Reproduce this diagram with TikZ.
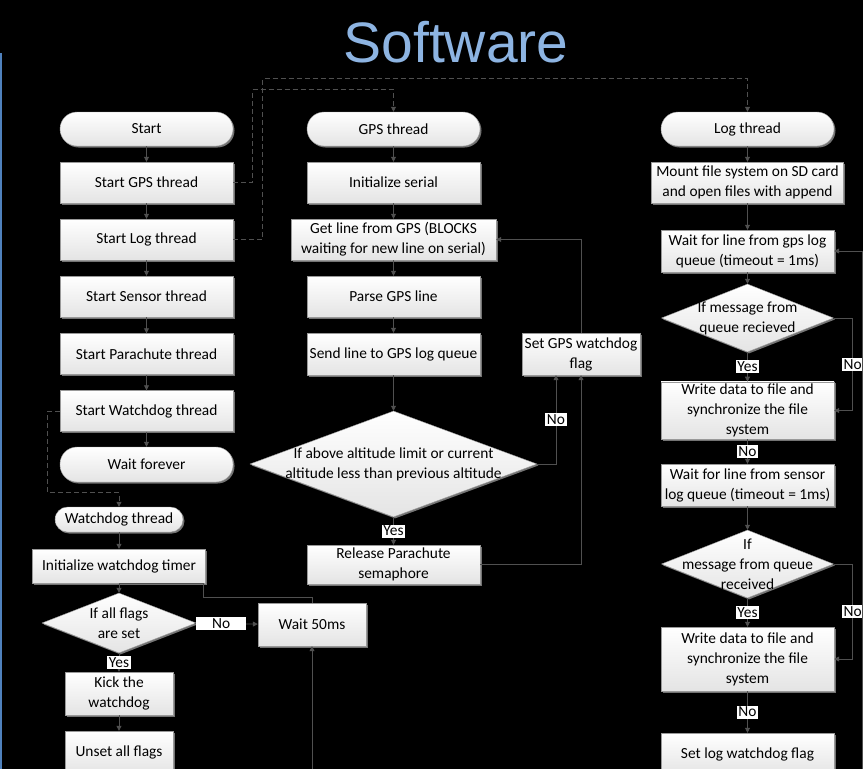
\documentclass[tikz,border=0pt]{standalone}
\usepackage{fontspec}
\setmainfont{Carlito}
\newfontfamily\titlefont{Liberation Sans}
\usetikzlibrary{arrows.meta, shapes.geometric, shadows, calc}
\usepackage{xcolor}
\definecolor{titleblue}{HTML}{8DB4E2}
\definecolor{edgeblue}{HTML}{4F81BD}
\definecolor{linegray}{HTML}{505050}
\definecolor{boxgray}{HTML}{E4E4E4}

\begin{document}
\begin{tikzpicture}[x=1pt, y=-1pt,
  font=\fontsize{15.4}{20}\selectfont,
  >={Triangle[length=5pt,width=5pt]},
  procbox/.style={rectangle, draw=black!40, top color=white, bottom color=boxgray,
    drop shadow={shadow xshift=1.5pt, shadow yshift=-1.5pt, fill=black!55, opacity=1},
    align=center, inner sep=2pt, minimum width=173pt, minimum height=41pt},
  term/.style={procbox, rounded corners=17pt, minimum height=34pt},
  decision/.style={diamond, draw=black!40, top color=white, bottom color=boxgray,
    drop shadow={shadow xshift=1.5pt, shadow yshift=-1.5pt, fill=black!55, opacity=1},
    inner sep=0pt},
  conn/.style={draw=linegray, line width=0.8pt},
  arr/.style={conn, ->},
  dasharr/.style={conn, dash pattern=on 5pt off 3pt, ->},
  yn/.style={fill=white, text=black, inner sep=1.5pt}
]
  \useasboundingbox (0,0) rectangle (863,769);
  \fill[black] (0,0) rectangle (863,769);
  \draw[edgeblue, line width=2pt] (1,53) -- (1,769);

  \node[font=\titlefont\fontsize{57}{64}\selectfont, text=titleblue] (title) at (456,42) {Software};

  % main thread
  \node[term] (start) at (146.5,129) {Start};
  \node[procbox] (sgps) at (146.5,182.5) {Start GPS thread};
  \node[procbox] (slog) at (146.5,239.5) {Start Log thread};
  \node[procbox] (ssen) at (146.5,296.5) {Start Sensor thread};
  \node[procbox] (spar) at (146.5,354) {Start Parachute thread};
  \node[procbox] (swd) at (146.5,411) {Start Watchdog thread};
  \node[term, minimum height=35pt] (wait) at (146.5,464.5) {Wait forever};

  % watchdog thread
  \node[term, rounded corners=12.5pt, minimum width=128pt, minimum height=25pt] (wdt) at (119,519.5) {Watchdog thread};
  \node[procbox, minimum height=34pt] (wdinit) at (119,566) {Initialize watchdog timer};
  \node[decision, minimum width=154pt, minimum height=60pt,
    label={[align=center]center:If all flags\\are set}] (flags) at (119,623) {};
  \node[procbox, minimum width=108pt, minimum height=43pt] (kick) at (119,693.5) {Kick the\\watchdog};
  \node[procbox, minimum width=108pt, minimum height=43pt] (unset) at (119,752.5) {Unset all flags};
  \node[procbox, minimum width=108pt, minimum height=43pt] (w50) at (312,624.5) {Wait 50ms};
  \coordinate (w50in) at (312,769);

  % GPS thread
  \node[term] (gpst) at (393.5,129) {GPS thread};
  \node[procbox] (iser) at (393.5,182.5) {Initialize serial};
  \node[procbox, minimum width=205pt] (getl) at (393.5,239.5) {Get line from GPS (BLOCKS\\waiting for new line on serial)};
  \node[procbox] (parse) at (393.5,296.5) {Parse GPS line};
  \node[procbox, minimum height=42pt] (send) at (393.5,354) {Send line to GPS log queue};
  \node[decision, minimum width=287pt, minimum height=106pt,
    label={[align=center]center:If above altitude limit or current\\altitude less than previous altitude}] (alt) at (393.5,464) {};
  \node[procbox, minimum height=39pt] (rel) at (393.5,564.5) {Release Parachute\\semaphore};
  \node[procbox, minimum width=118pt, minimum height=42pt] (gpsf) at (581,354) {Set GPS watchdog\\flag};

  % log thread
  \node[term] (logt) at (747.5,129) {Log thread};
  \node[procbox, minimum width=192pt] (mount) at (747.5,182.5) {Mount file system on SD card\\and open files with append};
  \node[procbox, minimum height=42pt] (wgps) at (747.5,251) {Wait for line from gps log\\queue (timeout = 1ms)};
  \node[decision, minimum width=172pt, minimum height=68pt,
    label={[align=center]center:If message from\\queue recieved}] (q1) at (747.5,318) {};
  \node[procbox, minimum height=57pt] (wr1) at (747.5,410.5) {Write data to file and\\synchronize the file\\system};
  \node[procbox, minimum height=42pt] (wsen) at (747.5,485) {Wait for line from sensor\\log queue (timeout = 1ms)};
  \node[decision, minimum width=172pt, minimum height=68pt,
    label={[align=center]center:If\\message from queue\\received}] (q2) at (747.5,564) {};
  \node[procbox, minimum height=64pt] (wr2) at (747.5,659) {Write data to file and\\synchronize the file\\system};
  \node[procbox, minimum height=42pt] (slwd) at (747.5,754) {Set log watchdog flag};
  \coordinate (login) at (862,769);

  % straight arrows
  \foreach \a/\b in {start/sgps, sgps/slog, slog/ssen, ssen/spar, spar/swd, swd/wait,
      wdt/wdinit, wdinit/flags, kick/unset, gpst/iser, iser/getl, getl/parse,
      parse/send, send/alt, logt/mount, mount/wgps, wgps/q1, wsen/q2}
    \draw[arr] (\a) -- (\b);

  % labelled arrows
  \draw[arr] (flags) -- node[yn] {Yes} (kick);
  \draw[arr] (flags) -- node[yn, minimum width=50pt, pos=0.42] {No} (w50);
  \draw[arr] (alt) -- node[yn] {Yes} (rel);
  \draw[arr] (q1) -- node[yn] {Yes} (wr1);
  \draw[arr] (wr1) -- node[yn] {No} (wsen);
  \draw[arr] (q2) -- node[yn] {Yes} (wr2);
  \draw[arr] (wr2) -- node[yn] {No} (slwd);

  % loops
  \draw[conn] (w50.north) |- (203,597) |- (wdinit.south);
  \draw[arr] (w50in) -- (w50.south);
  \draw[arr] (alt.east) -| node[yn, pos=0.75] {No} ($(gpsf.south)+(-25,0)$);
  \draw[arr] (rel.east) -| (gpsf.south);
  \draw[arr] (gpsf.north) |- (getl.east);
  \draw[arr] (q1.east) -- ++(19,0) |- node[yn, pos=0.25] {No} (wr1.east);
  \draw[arr] (q2.east) -- ++(19,0) |- node[yn, pos=0.25] {No} (wr2.east);
  \draw[arr] (login) |- (wgps.east);

  % thread starts (dashed)
  \draw[dasharr] (sgps.east) -- ++(19,0) |- ($(gpst.north)+(0,-22)$) -- (gpst.north);
  \draw[dasharr] (slog.east) -- ++(29,0) |- ($(logt.north)+(0,-33)$) -- (logt.north);
  \draw[dasharr] (swd.west) -- ++(-12,0) |- ($(wdt.north)+(0,-14)$) -- (wdt.north);
\end{tikzpicture}
\end{document}
